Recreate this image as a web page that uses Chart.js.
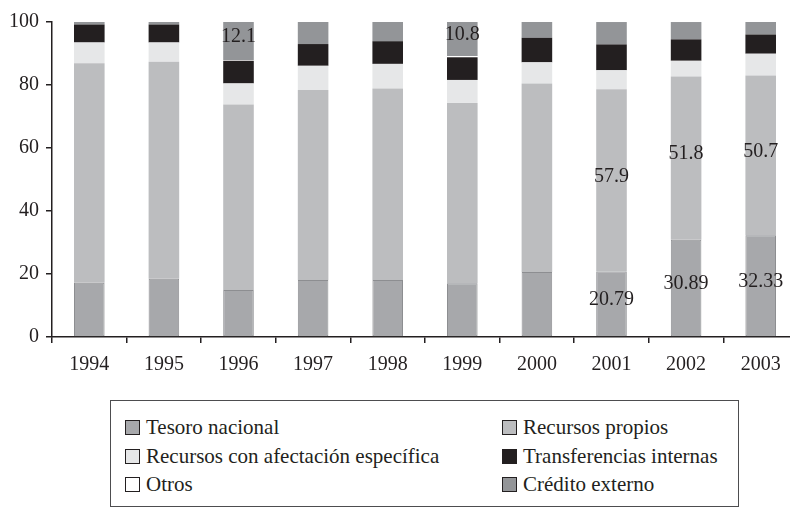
<!DOCTYPE html>
<html>
<head>
<meta charset="utf-8">
<script src="https://cdn.jsdelivr.net/npm/chart.js@4.4.1/dist/chart.umd.min.js"></script>
<style>
    html, body { margin: 0; padding: 0; overflow: hidden; background: #fff; }
    #wrap { position: absolute; left: 0; top: 0; width: 800px; height: 387px; }
    #legend {
        position: absolute; left: 110px; top: 400px; width: 629px; height: 107px;
        border: 1.5px solid #4d4d4f; box-sizing: border-box;
        font-family: "Liberation Serif", serif; font-size: 21px; color: #231f20;
    }
    .item { position: absolute; display: flex; align-items: center; white-space: nowrap; }
    .box { width: 13px; height: 13px; border: 1px solid #231f20; margin-right: 6px; }
</style>
</head>
<body>
<div id="wrap"><canvas id="chart" width="800" height="387"></canvas></div>
<div id="legend"></div>
<script>
// categories and series (percent of total)
const years = ["1994", "1995", "1996", "1997", "1998", "1999", "2000", "2001", "2002", "2003"];
const tesoroNacional = [17.2, 18.5, 14.9, 18.1, 18.1, 17.1, 20.6, 20.79, 30.89, 32.33];
const recursosPropios = [69.7, 68.9, 58.9, 60.3, 60.8, 57.2, 59.9, 57.9, 51.8, 50.7];
const afectacionEspecifica = [6.6, 6.1, 6.7, 7.7, 7.8, 7.3, 6.7, 6.0, 5.0, 6.9];
const transferenciasInternas = [5.7, 5.7, 7.2, 6.9, 7.2, 7.2, 7.8, 8.2, 6.8, 6.1];
const otros = [0, 0, 0.2, 0, 0, 0.4, 0, 0, 0, 0];
const creditoExterno = [0.8, 0.8, 12.1, 7.0, 6.1, 10.8, 5.0, 7.1, 5.5, 3.97];
const yTicks = [0, 20, 40, 60, 80, 100];

// value labels printed inside some segments
const tesoroLabels = [null, null, null, null, null, null, null, "20.79", "30.89", "32.33"];
const propiosLabels = [null, null, null, null, null, null, null, "57.9", "51.8", "50.7"];
const creditoLabels = [null, null, "12.1", null, null, "10.8", null, null, null, null];

const ink = "#231f20";
Chart.defaults.font.family = "'Liberation Serif', serif";
Chart.defaults.font.size = 20;
Chart.defaults.color = ink;

const segmentLabels = {
    id: "segmentLabels",
    afterDatasetsDraw(chart) {
        const ctx = chart.ctx;
        ctx.save();
        ctx.font = "20px 'Liberation Serif'";
        ctx.fillStyle = ink;
        ctx.textAlign = "center";
        ctx.textBaseline = "middle";
        chart.data.datasets.forEach((ds, di) => {
            if (!ds.valueLabels) return;
            const meta = chart.getDatasetMeta(di);
            meta.data.forEach((bar, i) => {
                const txt = ds.valueLabels[i];
                if (!txt) return;
                const p = bar.getProps(["x", "y", "base"], true);
                ctx.fillText(txt, p.x, (p.y + p.base) / 2 - 4);
            });
        });
        ctx.restore();
    }
};

const chart = new Chart(document.getElementById("chart"), {
    type: "bar",
    data: {
        labels: years,
        datasets: [
            { label: "Tesoro nacional", data: tesoroNacional, backgroundColor: "#a7a8ab", borderColor: "#8d8e91", borderWidth: 1, valueLabels: tesoroLabels },
            { label: "Recursos propios", data: recursosPropios, backgroundColor: "#bcbdbf", valueLabels: propiosLabels },
            { label: "Recursos con afectación específica", data: afectacionEspecifica, backgroundColor: "#e6e7e8" },
            { label: "Transferencias internas", data: transferenciasInternas, backgroundColor: "#231f20" },
            { label: "Otros", data: otros, backgroundColor: "#ffffff" },
            { label: "Crédito externo", data: creditoExterno, backgroundColor: "#939598", valueLabels: creditoLabels }
        ]
    },
    options: {
        responsive: false,
        animation: false,
        layout: { padding: { left: 2, right: 2, top: 22, bottom: 0 } },
        datasets: { bar: { categoryPercentage: 1, barPercentage: 0.41, borderSkipped: false } },
        plugins: { legend: { display: false }, tooltip: { enabled: false } },
        scales: {
            x: {
                stacked: true,
                grid: { drawOnChartArea: false, tickLength: 6, color: ink, lineWidth: 1.5 },
                border: { color: ink, width: 1.5 },
                ticks: { padding: 10, maxRotation: 0 }
            },
            y: {
                stacked: true,
                min: 0,
                max: 100,
                afterBuildTicks(axis) { axis.ticks = yTicks.map(v => ({ value: v })); },
                grid: { drawOnChartArea: false, tickLength: 6, color: ink, lineWidth: 1.5 },
                border: { color: ink, width: 1.5 },
                ticks: { padding: 7 }
            }
        }
    },
    plugins: [segmentLabels]
});

// legend built from the chart's datasets, two columns
const legend = document.getElementById("legend");
chart.data.datasets.forEach((ds, i) => {
    const item = document.createElement("div");
    item.className = "item";
    item.style.left = (i % 2 === 0 ? 14 : 391) + "px";
    item.style.top = (14 + Math.floor(i / 2) * 28.5) + "px";
    const box = document.createElement("span");
    box.className = "box";
    box.style.background = ds.backgroundColor;
    item.appendChild(box);
    item.appendChild(document.createTextNode(ds.label));
    legend.appendChild(item);
});
</script>
</body>
</html>
